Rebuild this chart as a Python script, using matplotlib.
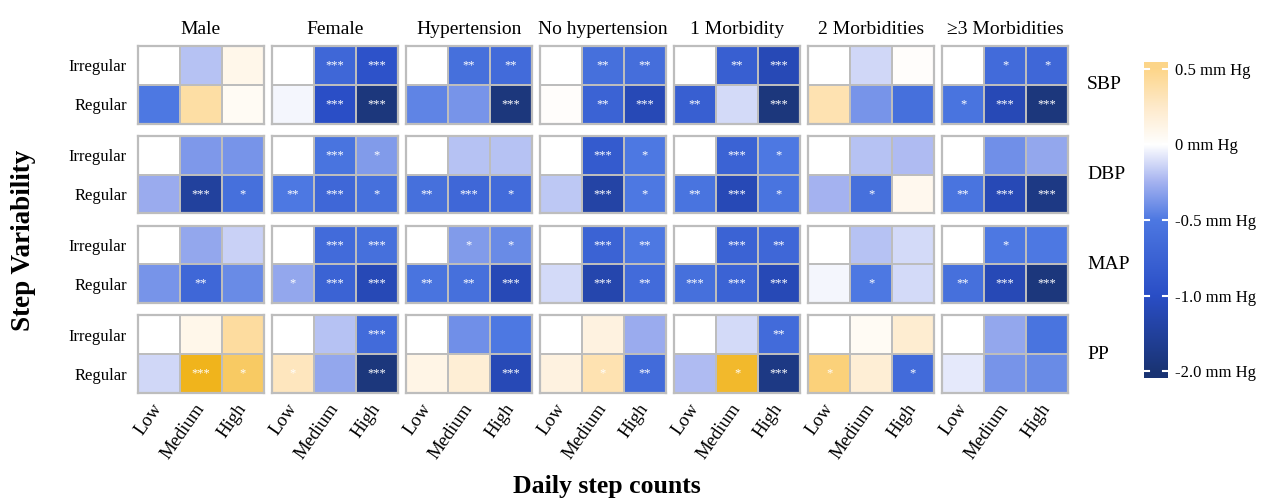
import matplotlib
matplotlib.use("Agg")
import matplotlib.pyplot as plt
import numpy as np
from matplotlib.colors import LinearSegmentedColormap, Normalize

plt.rcParams['font.family'] = ['Liberation Serif', 'DejaVu Serif']

groups = ['Male', 'Female', 'Hypertension', 'No hypertension',
          '1 Morbidity', '2 Morbidities', '\u22653 Morbidities']
measures = ['SBP', 'DBP', 'MAP', 'PP']
step_levels = ['Low', 'Medium', 'High']
variability = ['Irregular', 'Regular']

# mean difference (mm Hg) per group: [[Irregular L/M/H], [Regular L/M/H]]
sbp = [
    [[0, -0.20, 0.10], [-0.50, 0.40, 0.05]],
    [[0, -0.70, -0.95], [-0.03, -1.00, -1.90]],
    [[0, -0.60, -0.65], [-0.45, -0.38, -1.90]],
    [[0, -0.60, -0.62], [0.02, -0.75, -1.20]],
    [[0, -0.80, -1.20], [-0.80, -0.12, -1.90]],
    [[0, -0.13, 0.02], [0.35, -0.38, -0.60]],
    [[0, -0.65, -0.70], [-0.55, -1.20, -1.90]],
]
dbp = [
    [[0, -0.36, -0.38], [-0.28, -1.50, -0.60]],
    [[0, -0.55, -0.35], [-0.50, -0.70, -0.60]],
    [[0, -0.20, -0.20], [-0.60, -0.70, -0.65]],
    [[0, -0.85, -0.50], [-0.18, -1.40, -0.50]],
    [[0, -0.75, -0.50], [-0.55, -1.20, -0.55]],
    [[0, -0.20, -0.22], [-0.25, -0.60, 0.08]],
    [[0, -0.40, -0.30], [-0.55, -1.20, -1.80]],
]
map_ = [
    [[0, -0.30, -0.15], [-0.38, -0.70, -0.42]],
    [[0, -0.65, -0.60], [-0.30, -0.75, -1.20]],
    [[0, -0.35, -0.42], [-0.55, -0.60, -1.20]],
    [[0, -0.75, -0.50], [-0.12, -1.30, -0.65]],
    [[0, -0.75, -0.70], [-0.60, -0.75, -1.20]],
    [[0, -0.20, -0.12], [-0.03, -0.50, -0.12]],
    [[0, -0.50, -0.50], [-0.60, -1.20, -1.90]],
]
pp = [
    [[0, 0.10, 0.42], [-0.13, 1.20, 0.75]],
    [[0, -0.20, -0.65], [0.30, -0.30, -1.90]],
    [[0, -0.40, -0.50], [0.12, 0.20, -1.20]],
    [[0, 0.15, -0.28], [0.15, 0.35, -0.65]],
    [[0, -0.12, -0.65], [-0.22, 1.10, -1.80]],
    [[0, 0.05, 0.22], [0.60, 0.20, -0.65]],
    [[0, -0.30, -0.55], [-0.07, -0.38, -0.42]],
]

# significance marks, same layout as the values
sbp_sig = [
    [['', '', ''], ['', '', '']],
    [['', '***', '***'], ['', '***', '***']],
    [['', '**', '**'], ['', '', '***']],
    [['', '**', '**'], ['', '**', '***']],
    [['', '**', '***'], ['**', '', '***']],
    [['', '', ''], ['', '', '']],
    [['', '*', '*'], ['*', '***', '***']],
]
dbp_sig = [
    [['', '', ''], ['', '***', '*']],
    [['', '***', '*'], ['**', '***', '*']],
    [['', '', ''], ['**', '***', '*']],
    [['', '***', '*'], ['', '***', '*']],
    [['', '***', '*'], ['**', '***', '*']],
    [['', '', ''], ['', '*', '']],
    [['', '', ''], ['**', '***', '***']],
]
map_sig = [
    [['', '', ''], ['', '**', '']],
    [['', '***', '***'], ['*', '***', '***']],
    [['', '*', '*'], ['**', '**', '***']],
    [['', '***', '**'], ['', '***', '**']],
    [['', '***', '**'], ['***', '***', '***']],
    [['', '', ''], ['', '*', '']],
    [['', '*', ''], ['**', '***', '***']],
]
pp_sig = [
    [['', '', ''], ['', '***', '*']],
    [['', '', '***'], ['*', '', '***']],
    [['', '', ''], ['', '', '***']],
    [['', '', ''], ['', '*', '**']],
    [['', '', '**'], ['', '*', '***']],
    [['', '', ''], ['*', '', '*']],
    [['', '', ''], ['', '', '']],
]

values = [sbp, dbp, map_, pp]
sigs = [sbp_sig, dbp_sig, map_sig, pp_sig]

cbar_ticks = [-2.0, -1.0, -0.5, 0.0, 0.5]
cbar_labels = ['-2.0 mm Hg', '-1.0 mm Hg', '-0.5 mm Hg', '0 mm Hg', '0.5 mm Hg']

# diverging palette, navy -> blue -> white -> light orange -> gold
vmin, vmax = -2.1, 1.2
nodes = [(-2.1, '#162d66'), (-2.0, '#1a3474'), (-1.0, '#2a4ec6'),
         (-0.5, '#4d78e2'), (-0.25, '#a4b2f0'), (0.0, '#ffffff'),
         (0.25, '#feeacb'), (0.5, '#fdd68a'), (1.2, '#f0b41c')]
cmap = LinearSegmentedColormap.from_list(
    'bp', [((v - vmin) / (vmax - vmin), c) for v, c in nodes], N=2048)
norm = Normalize(vmin=vmin, vmax=vmax)

fig, axes = plt.subplots(4, 7, figsize=(12.74, 5.01), dpi=100)
fig.subplots_adjust(left=138 / 1274, right=1068 / 1274,
                    top=1 - 46 / 501, bottom=1 - 393 / 501,
                    wspace=0.065, hspace=0.155)

grid_col = '#bdbdbd'
for i, m in enumerate(measures):
    for j, g in enumerate(groups):
        ax = axes[i, j]
        z = np.array(values[i][j])
        ax.pcolormesh(z, cmap=cmap, norm=norm, edgecolors=grid_col,
                      linewidth=1.4)
        ax.set_xlim(0, 3)
        ax.set_ylim(2, 0)
        for r in range(2):
            for c in range(3):
                s = sigs[i][j][r][c]
                if s:
                    ax.text(c + 0.5, r + 0.5, s, color='white', fontsize=9,
                            ha='center', va='center')
        for sp in ax.spines.values():
            sp.set_color(grid_col)
            sp.set_linewidth(1.6)
        ax.set_xticks([0.5, 1.5, 2.5])
        ax.set_yticks([0.5, 1.5])
        ax.tick_params(length=0)
        if i == 0:
            ax.set_title(g, fontsize=14, pad=9)
        if j == 0:
            ax.set_yticklabels(variability, fontsize=12)
            ax.tick_params(axis='y', pad=8)
        else:
            ax.set_yticklabels([])
        if i == 3:
            ax.set_xticklabels(step_levels, fontsize=13.5, rotation=55,
                               ha='right', va='center', rotation_mode='anchor')
            ax.tick_params(axis='x', pad=9)
        else:
            ax.set_xticklabels([])
    pos = axes[i, -1].get_position()
    fig.text(1087 / 1274, (pos.y0 + pos.y1) / 2, m, fontsize=14,
             ha='left', va='center')

fig.text(24 / 1274, 1 - 240 / 501, 'Step Variability',
         fontsize=19.5, fontweight='bold', rotation=90, ha='center', va='center')
fig.text(607 / 1274, 14 / 501, 'Daily step counts', fontsize=18.5,
         fontweight='bold', ha='center', va='center')

# colour bar, ticks evenly spaced
cax = fig.add_axes([1144 / 1274, 1 - 378 / 501, 24 / 1274, 316 / 501])
tpos = np.arange(len(cbar_ticks))
t = np.linspace(-0.09, tpos[-1] + 0.09, 400)
v = np.interp(t, tpos, cbar_ticks)
cax.imshow(v[:, None], cmap=cmap, norm=norm, origin='lower', aspect='auto',
           extent=[0, 1, t[0], t[-1]])
for k in tpos:
    cax.plot([0, 0.22], [k, k], color='white', lw=1.5)
    cax.plot([0.78, 1], [k, k], color='white', lw=1.5)
cax.set_xlim(0, 1)
cax.set_ylim(t[0], t[-1])
cax.set_xticks([])
cax.yaxis.tick_right()
cax.set_yticks(tpos)
cax.set_yticklabels(cbar_labels, fontsize=12)
cax.tick_params(axis='y', length=0, pad=5)
for sp in cax.spines.values():
    sp.set_visible(False)

fig.savefig('out.png', dpi=100)
